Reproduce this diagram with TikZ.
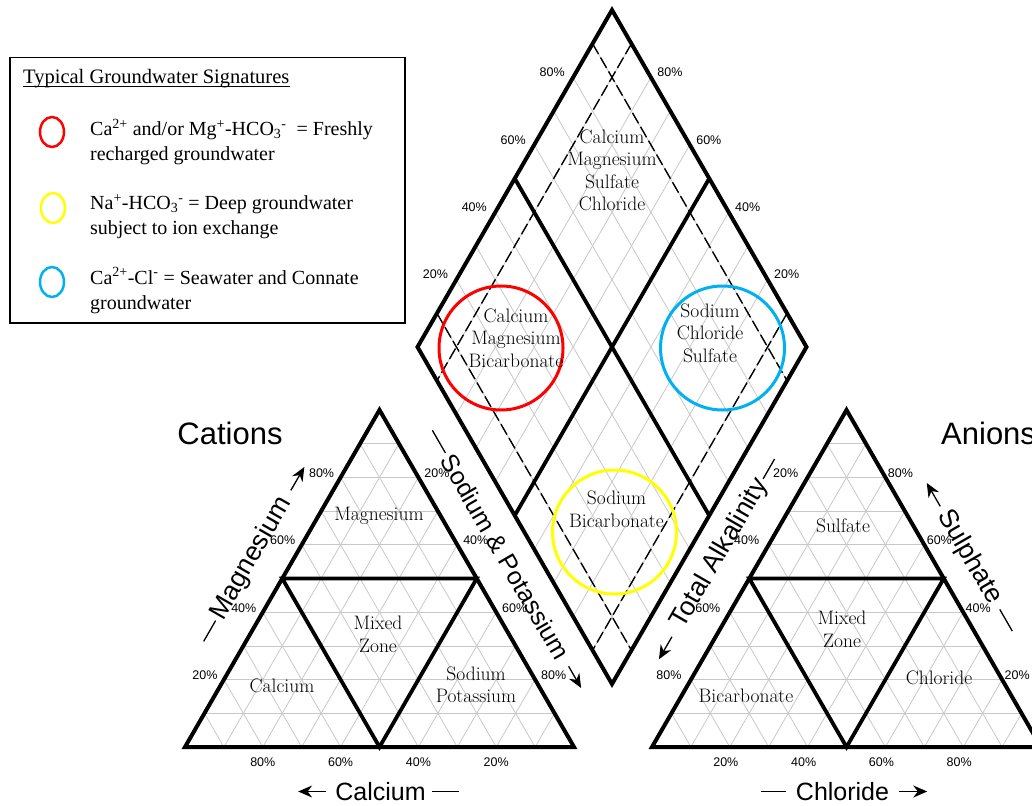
\documentclass[tikz,border=0pt]{standalone}
\usepackage{fontspec}
\setsansfont{Liberation Sans}
\newfontfamily\legendfont{Liberation Serif}
\usetikzlibrary{calc,positioning,arrows.meta,shapes.geometric}
\definecolor{gridgrey}{RGB}{200,200,200}
\definecolor{sigred}{RGB}{255,0,0}
\definecolor{sigyellow}{RGB}{255,255,0}
\definecolor{sigblue}{RGB}{0,176,240}
\newcommand\zonefont{\fontsize{19.5}{22.5}\selectfont}
\newcommand\pctfont{\sffamily\fontsize{12.5}{14}\selectfont}
\newcommand\axisfont{\sffamily\fontsize{25}{30}\selectfont}
\newcommand\bigaxisfont{\sffamily\fontsize{31}{36}\selectfont}
\newcommand\keyfont{\legendfont\fontsize{20}{25}\selectfont}

\begin{document}
\begin{tikzpicture}[x=1pt,y=-1pt,
gridline/.style={draw=gridgrey,line width=0.8pt},
thickedge/.style={line width=4pt,line join=miter},
zone/.style={line width=3.8pt},
tenpct/.style={line width=1.4pt,dash pattern=on 12pt off 4pt},
zonelabel/.style={font=\zonefont,align=center,inner sep=0pt},
pct/.style={font=\pctfont,inner sep=0pt},
axistitle/.style={font=\axisfont,inner sep=0pt},
axisline/.style={line width=1.3pt},
axisarrow/.style={line width=1.3pt,-{Stealth[length=14pt,width=12pt]}},
sig/.style={line width=3pt,circle,minimum size=124pt,inner sep=0pt},
keytext/.style={font=\keyfont,align=left,inner sep=0pt,anchor=west},
keymark/.style={line width=2.5pt,ellipse,minimum width=24pt,minimum height=30pt,inner sep=0pt}
]
\useasboundingbox (0,0) rectangle (1032,805);

% corners of the three plots
\coordinate (lA) at (185,747);
\coordinate (lB) at (574,747);
\coordinate (lC) at (379.5,410);
\coordinate (rA) at (652,747);
\coordinate (rB) at (1041,747);
\coordinate (rC) at (846.5,410);
\coordinate (dT) at (612,10);
\coordinate (dL) at (417.5,347);
\coordinate (dR) at (806.5,347);
\coordinate (dB) at (612,684);

% 10% grid
\foreach \i in {1,...,9}{
  \draw[gridline] ($(lA)!\i/10!(lC)$) -- ($(lB)!\i/10!(lC)$);
  \draw[gridline] ($(lA)!\i/10!(lB)$) -- ($(lC)!\i/10!(lB)$);
  \draw[gridline] ($(lA)!\i/10!(lB)$) -- ($(lA)!\i/10!(lC)$);
  \draw[gridline] ($(rA)!\i/10!(rC)$) -- ($(rB)!\i/10!(rC)$);
  \draw[gridline] ($(rA)!\i/10!(rB)$) -- ($(rC)!\i/10!(rB)$);
  \draw[gridline] ($(rA)!\i/10!(rB)$) -- ($(rA)!\i/10!(rC)$);
  \draw[gridline] ($(dT)!\i/10!(dL)$) -- ($(dR)!\i/10!(dB)$);
  \draw[gridline] ($(dT)!\i/10!(dR)$) -- ($(dL)!\i/10!(dB)$);
}
% dashed 10% lines in the diamond
\foreach \f in {0.1,0.9}{
  \draw[tenpct] ($(dT)!\f!(dL)$) -- ($(dR)!\f!(dB)$);
  \draw[tenpct] ($(dT)!\f!(dR)$) -- ($(dL)!\f!(dB)$);
}
% zone boundaries
\draw[zone] ($(lA)!.5!(lC)$) -- ($(lB)!.5!(lC)$) -- ($(lA)!.5!(lB)$) -- cycle;
\draw[zone] ($(rA)!.5!(rC)$) -- ($(rB)!.5!(rC)$) -- ($(rA)!.5!(rB)$) -- cycle;
\draw[zone] ($(dT)!.5!(dL)$) -- ($(dR)!.5!(dB)$);
\draw[zone] ($(dT)!.5!(dR)$) -- ($(dL)!.5!(dB)$);
% outlines
\draw[thickedge] (lA) -- (lB) -- (lC) -- cycle;
\draw[thickedge] (rA) -- (rB) -- (rC) -- cycle;
\draw[thickedge] (dT) -- (dR) -- (dB) -- (dL) -- cycle;

% signature circles
\node[sig,draw=sigred] (redsig) at (501,348) {};
\node[sig,draw=sigblue] (bluesig) at (722.5,348) {};
\node[sig,draw=sigyellow] (yellowsig) at (614.5,532) {};

% zone names
\node[zonelabel] (cmsc) at (612,170.5) {Calcium\\Magnesium\\Sulfate\\Chloride};
\node[zonelabel] (cmb) at (516,338) {Calcium\\Magnesium\\Bicarbonate};
\node[zonelabel] (ncs) at (710,333) {Sodium\\Chloride\\Sulfate};
\node[zonelabel] (nb) at (616.5,509.5) {Sodium\\Bicarbonate};
\node[zonelabel] (lmg) at (379,515.5) {Magnesium};
\node[zonelabel] (lmix) at (378,634.5) {Mixed\\Zone};
\node[zonelabel] (lca) at (282,686) {Calcium};
\node[zonelabel] (lnak) at (476,685) {Sodium\\Potassium};
\node[zonelabel] (rso) at (843,526) {Sulfate};
\node[zonelabel] (rmix) at (842,629.5) {Mixed\\Zone};
\node[zonelabel] (rhco) at (746,696) {Bicarbonate};
\node[zonelabel] (rcl) at (939,678) {Chloride};

% percent ticks
\foreach \f/\t in {0.2/20,0.4/40,0.6/60,0.8/80}{
  \node[pct] (lmgp\t) at ($(lA)!\f!(lC)+(-19,-4.5)$) {\t\%};
  \node[pct] (lnap\t) at ($(lC)!\f!(lB)+(18.5,-4.5)$) {\t\%};
  \node[pct] (rhcp\t) at ($(rC)!\f!(rA)+(-22,-4.5)$) {\t\%};
  \node[pct] (rsop\t) at ($(rB)!\f!(rC)+(15,-4.5)$) {\t\%};
  \node[pct] (rclp\t) at ($(rA)!\f!(rB)+(-4,15)$) {\t\%};
  \node[pct] (dulp\t) at ($(dL)!\f!(dT)+(-21,-5)$) {\t\%};
  \node[pct] (durp\t) at ($(dR)!\f!(dT)+(19,-5)$) {\t\%};
}
\foreach \f/\t in {0.2/80,0.4/60,0.6/40,0.8/20}
  \node[pct] (lcap\t) at ($(lA)!\f!(lB)+(0,15)$) {\t\%};

% axis titles
\node[axistitle,font=\bigaxisfont] (catn) at (230,433) {Cations};
\node[axistitle,font=\bigaxisfont,anchor=west] (anin) at (941,433) {Anions};
\node[axistitle] (cat) at (380.5,791.5) {Calcium};
\draw[axisarrow] ($(cat.west)!-9pt!(cat.east)$) -- ($(cat.west)!-37pt!(cat.east)$);
\draw[axisline] ($(cat.east)!-6pt!(cat.west)$) -- ($(cat.east)!-33pt!(cat.west)$);
\node[axistitle] (clt) at (842.5,791.5) {Chloride};
\draw[axisline] ($(clt.west)!-10pt!(clt.east)$) -- ($(clt.west)!-35pt!(clt.east)$);
\draw[axisarrow] ($(clt.east)!-10pt!(clt.west)$) -- ($(clt.east)!-38pt!(clt.west)$);
\node[axistitle,font=\sffamily\fontsize{26.5}{30}\selectfont,rotate=60] (mgt) at (251.5,558.5) {Magnesium};
\draw[axisline] ($(mgt.west)!-3pt!(mgt.east)$) -- ($(mgt.west)!-27pt!(mgt.east)$);
\draw[axisarrow] ($(mgt.east)!-10pt!(mgt.west)$) -- ($(mgt.east)!-37pt!(mgt.west)$);
\node[axistitle,rotate=-60] (nakt) at (505.5,557) {Sodium \& Potassium};
\draw[axisline] ($(nakt.west)!-4pt!(nakt.east)$) -- ($(nakt.west)!-30pt!(nakt.east)$);
\draw[axisarrow] ($(nakt.east)!-10pt!(nakt.west)$) -- ($(nakt.east)!-35pt!(nakt.west)$);
\node[axistitle,font=\sffamily\fontsize{26.5}{30}\selectfont,rotate=60] (alkt) at (720,553.5) {Total Alkalinity};
\draw[axisarrow] ($(alkt.west)!-12pt!(alkt.east)$) -- ($(alkt.west)!-38pt!(alkt.east)$);
\draw[axisline] ($(alkt.east)!-2pt!(alkt.west)$) -- ($(alkt.east)!-25pt!(alkt.west)$);
\node[axistitle,font=\sffamily\fontsize{26.5}{30}\selectfont,rotate=-60] (sot) at (969.5,557) {Sulphate};
\draw[axisarrow] ($(sot.west)!-6pt!(sot.east)$) -- ($(sot.west)!-33pt!(sot.east)$);
\draw[axisline] ($(sot.east)!-8pt!(sot.west)$) -- ($(sot.east)!-33pt!(sot.west)$);

% legend
\node[draw,line width=1.5pt,anchor=north west,minimum width=395pt,minimum height=265pt,inner sep=0pt] (legend) at (9,57) {};
\node[keytext,font=\legendfont\fontsize{20.5}{25}\selectfont] (keytitle) at (23,79) {Typical Groundwater Signatures};
\draw[line width=1pt] ([yshift=-3pt]keytitle.base west) -- ([yshift=-3pt]keytitle.base east);
\node[keymark,draw=sigred] (keyred) at (52,132) {};
\node[keymark,draw=sigyellow] (keyyellow) at (53,208) {};
\node[keymark,draw=sigblue] (keyblue) at (52,282) {};
\node[keytext] (keyfresh) at (90,142) {Ca\textsuperscript{2+} and/or Mg\textsuperscript{+}-HCO\textsubscript{3}\textsuperscript{-}\ \ = Freshly\\recharged groundwater};
\node[keytext] (keydeep) at (90,216.5) {Na\textsuperscript{+}-HCO\textsubscript{3}\textsuperscript{-} = Deep groundwater\\subject to ion exchange};
\node[keytext] (keysea) at (90,290.5) {Ca\textsuperscript{2+}-Cl\textsuperscript{-}\ = Seawater and Connate\\groundwater};
\end{tikzpicture}
\end{document}
